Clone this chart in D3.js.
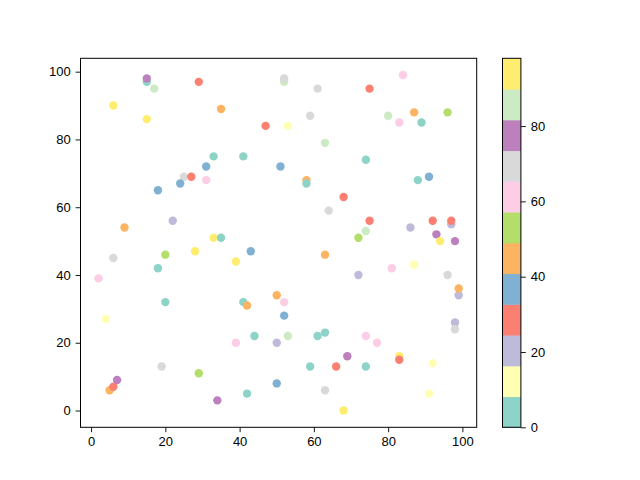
<!DOCTYPE html>
<html>
<head>
<meta charset="utf-8">
<script src="https://cdn.jsdelivr.net/npm/d3@7"></script>
<style>
  body { margin: 0; background: #fff; }
  text { font-family: "Liberation Sans", Arial, sans-serif; font-size: 13px; fill: #000; }
</style>
</head>
<body>
<svg id="chart" width="640" height="480"></svg>
<script>
// point data (x, y, colour value)
var xs = [15,15,17,29,6,35,15,47,33,41,31,51,25,27,24,31,18,22,9,33,
          35,52,52,61,75,84,59,80,87,83,89,96,53,63,74,58,58,88,91,68,
          64,75,74,72,86,92,97,97,93,94,98,6,20,28,43,18,39,2,20,41,
          42,50,4,39,44,50,19,29,5,6,7,34,42,50,63,72,81,87,96,99,
          99,98,98,52,52,53,61,63,74,77,69,83,83,92,59,66,74,63,91,68];
var ys = [97,98,95,97,90,89,86,84,75,75,72,72,69,69,67,68,65,56,54,51,
          51,97,98,95,95,99,87,87,88,85,85,88,84,79,74,68,67,68,69,63,
          59,56,53,51,54,56,55,56,52,50,50,45,46,47,47,42,44,39,32,32,
          31,34,27,20,22,20,13,11,6,7,9,3,5,8,46,40,42,43,40,34,
          36,26,24,32,28,22,22,23,22,20,16,16,15,14,13,13,13,6,5,0];
var cs = [4,78,86,29,94,45,94,29,4,4,37,37,69,29,37,61,37,20,45,94,
          4,86,69,69,29,61,69,86,45,61,4,53,12,86,4,45,4,4,37,29,
          69,29,86,53,20,29,20,29,78,94,78,69,53,94,37,4,94,61,4,4,
          45,45,12,61,4,20,69,53,45,29,78,78,4,37,45,20,61,12,69,20,
          45,20,69,61,37,86,4,4,61,61,78,94,29,12,4,29,4,69,12,94];

var xTicks = [0, 20, 40, 60, 80, 100];
var yTicks = [0, 20, 40, 60, 80, 100];
var cTicks = [0, 20, 40, 60, 80];
var cMax = 98;

var svg = d3.select("#chart");
var axLeft = 80.5, axRight = 476.7, axTop = 58.3, axBottom = 427.3;

var x = d3.scaleLinear().domain([-2.85, 103.85]).range([axLeft, axRight]);
var y = d3.scaleLinear().domain([-4.95, 103.95]).range([axBottom, axTop]);
var color = d3.scaleQuantize().domain([0, cMax]).range(d3.schemeSet3);

var pts = d3.range(xs.length).map(function (i) {
  return { x: xs[i], y: ys[i], c: cs[i] };
});

svg.append("g").selectAll("circle")
  .data(pts)
  .enter().append("circle")
  .attr("cx", function (d) { return x(d.x); })
  .attr("cy", function (d) { return y(d.y); })
  .attr("r", 4.2)
  .attr("fill", function (d) { return color(d.c); });

// axes
var xAxis = svg.append("g")
  .attr("transform", "translate(0," + axBottom + ")")
  .call(d3.axisBottom(x).tickValues(xTicks).tickSize(4.9).tickPadding(4.9));
var yAxis = svg.append("g")
  .attr("transform", "translate(" + axLeft + ",0)")
  .call(d3.axisLeft(y).tickValues(yTicks).tickSize(4.9).tickPadding(4.9));
[xAxis, yAxis].forEach(function (a) {
  a.select(".domain").remove();
  a.selectAll("line").attr("stroke", "#000").attr("stroke-width", 0.9);
  a.selectAll("text").style("font-family", "Liberation Sans, Arial, sans-serif").style("font-size", "13px");
});

svg.append("rect")
  .attr("x", axLeft).attr("y", axTop)
  .attr("width", axRight - axLeft).attr("height", axBottom - axTop)
  .attr("fill", "none").attr("stroke", "#000").attr("stroke-width", 1);

// colorbar
var cbLeft = 502.5, cbWidth = 18.4;
var cy = d3.scaleLinear().domain([0, cMax]).range([axBottom, axTop]);
var bands = color.range().map(function (col) {
  var ext = color.invertExtent(col);
  return { lo: ext[0], hi: ext[1], col: col };
});

svg.append("g").selectAll("rect")
  .data(bands)
  .enter().append("rect")
  .attr("x", cbLeft)
  .attr("width", cbWidth)
  .attr("y", function (d) { return cy(d.hi); })
  .attr("height", function (d) { return cy(d.lo) - cy(d.hi) + 0.5; })
  .attr("fill", function (d) { return d.col; });

svg.append("rect")
  .attr("x", cbLeft).attr("y", axTop)
  .attr("width", cbWidth).attr("height", axBottom - axTop)
  .attr("fill", "none").attr("stroke", "#000").attr("stroke-width", 1);

var cAxis = svg.append("g")
  .attr("transform", "translate(" + (cbLeft + cbWidth) + ",0)")
  .call(d3.axisRight(cy).tickValues(cTicks).tickSize(4.9).tickPadding(4.9));
cAxis.select(".domain").remove();
cAxis.selectAll("line").attr("stroke", "#000").attr("stroke-width", 0.9);
cAxis.selectAll("text").style("font-family", "Liberation Sans, Arial, sans-serif").style("font-size", "13px");
</script>
</body>
</html>
